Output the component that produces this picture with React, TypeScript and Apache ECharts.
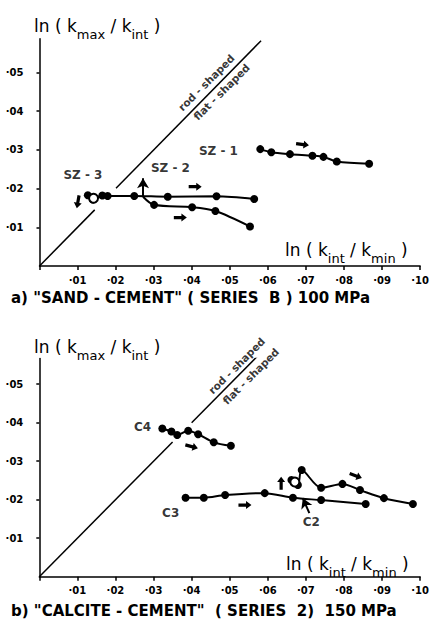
import React, { useEffect, useRef } from "react";
import * as echarts from "echarts";

// ---------- data ----------
const X_TICKS = [0.01, 0.02, 0.03, 0.04, 0.05, 0.06, 0.07, 0.08, 0.09, 0.1];
const Y_TICKS = [0.01, 0.02, 0.03, 0.04, 0.05];

// Panel a: sand-cement
const SZ1_X = [0.058, 0.0609, 0.0658, 0.0717, 0.0746, 0.0781, 0.0866];
const SZ1_Y = [0.0302, 0.0294, 0.0289, 0.0285, 0.0282, 0.027, 0.0264];
const SZ3_X = [0.0127, 0.014, 0.0165, 0.0179, 0.0249, 0.0337, 0.0465, 0.0564];
const SZ3_Y = [0.0183, 0.0172, 0.0182, 0.0181, 0.0181, 0.0179, 0.018, 0.0173];
const SZ2_X = [0.0272, 0.0301, 0.0401, 0.0462, 0.0553];
const SZ2_Y = [0.0179, 0.0158, 0.0152, 0.0142, 0.0102];
const DIAG_A = [[0, 0.0145], [0.0201, 0.0582]];

// Panel b: calcite-cement
const C4_X = [0.0323, 0.0347, 0.0362, 0.0391, 0.0417, 0.0458, 0.0503];
const C4_Y = [0.0385, 0.0377, 0.0368, 0.0379, 0.037, 0.0349, 0.034];
const C3_X = [0.0384, 0.0432, 0.0488, 0.0592, 0.0666, 0.074, 0.0857];
const C3_Y = [0.0205, 0.0205, 0.0212, 0.0217, 0.0205, 0.0199, 0.0189];
const C2_X = [0.0662, 0.0679, 0.0689, 0.074, 0.0796, 0.0842, 0.0905, 0.0981];
const C2_Y = [0.0251, 0.0238, 0.0277, 0.0231, 0.0241, 0.0225, 0.0204, 0.0189];
const DIAG_B = [[0, 0.035], [0.04, 0.0625]];

// direction arrows
const ARROW_A_X = [0.0691, 0.0409, 0.037, 0.0101];
const ARROW_A_Y = [0.0314, 0.0205, 0.0125, 0.0166];
const ARROW_A_ROT = [-8, 0, 0, -100];
const ARROW_B_X = [0.04, 0.054, 0.0831, 0.0635];
const ARROW_B_Y = [0.0338, 0.0186, 0.0262, 0.0243];
const ARROW_B_ROT = [-15, 0, -20, 90];

// loops
const LOOP_A = [[0.0142, 0.0175]];
const LOOP_B = [[0.0671, 0.0246]];

// series labels
const LABELS_A = [
  { name: "SZ - 1", x: 0.047, y: 0.0298 },
  { name: "SZ - 2", x: 0.0344, y: 0.0252 },
  { name: "SZ - 3", x: 0.0114, y: 0.0235 },
];
const LABELS_B = [
  { name: "C4", x: 0.0271, y: 0.039 },
  { name: "C3", x: 0.0345, y: 0.0166 },
  { name: "C2", x: 0.0714, y: 0.0143 },
];

const FONT = "'DejaVu Sans', sans-serif";
const ARROW = "path://M0,3L7,3L7,0L12,5L7,10L7,7L0,7Z";

const zip = (xs: number[], ys: number[]) => xs.map((x, i) => [x, ys[i]]);

function xAxis(gridIndex: number) {
  return {
    type: "value",
    gridIndex,
    min: 0,
    max: 0.1,
    interval: 0.01,
    splitLine: { show: false },
    axisLine: { lineStyle: { color: "#000", width: 1.5 } },
    axisTick: { length: 4, lineStyle: { color: "#000", width: 1.5 } },
    axisLabel: {
      color: "#000",
      fontFamily: FONT,
      fontSize: 10,
      fontWeight: "bold",
      margin: 9,
      formatter: (v: number) =>
        v < 0.005 ? "" : "·" + String(Math.round(v * 100)).padStart(2, "0"),
    },
  };
}

function yAxis(gridIndex: number, max: number) {
  return {
    type: "value",
    gridIndex,
    min: 0,
    max,
    interval: 0.01,
    splitLine: { show: false },
    axisLine: { lineStyle: { color: "#000", width: 1.5 } },
    axisTick: {
      length: 3,
      customValues: Y_TICKS,
      lineStyle: { color: "#000", width: 1.5 },
    },
    axisLabel: {
      color: "#000",
      fontFamily: FONT,
      fontSize: 10,
      fontWeight: "bold",
      margin: 16,
      customValues: Y_TICKS,
      formatter: (v: number) =>
        v < 0.005 || v > 0.055
          ? ""
          : "·" + String(Math.round(v * 100)).padStart(2, "0"),
    },
  };
}

function curve(xs: number[], ys: number[], axis: number, noFirstSymbol = false) {
  return {
    type: "line",
    xAxisIndex: axis,
    yAxisIndex: axis,
    smooth: 0.3,
    symbol: "circle",
    symbolSize: 8,
    itemStyle: { color: "#000", opacity: 1 },
    lineStyle: { color: "#000", width: 2 },
    data: zip(xs, ys).map((p, i) =>
      noFirstSymbol && i === 0 ? { value: p, symbol: "none" } : { value: p }
    ),
    z: 3,
  };
}

function diag(seg: number[], axis: number) {
  return {
    type: "line",
    xAxisIndex: axis,
    yAxisIndex: axis,
    symbol: "none",
    lineStyle: { color: "#000", width: 1.5 },
    data: [
      [seg[0], seg[0]],
      [seg[1], seg[1]],
    ],
  };
}

function arrows(xs: number[], ys: number[], rots: number[], axis: number) {
  return {
    type: "scatter",
    xAxisIndex: axis,
    yAxisIndex: axis,
    symbol: ARROW,
    symbolSize: [13, 8],
    itemStyle: { color: "#000", opacity: 1 },
    data: xs.map((x, i) => ({ value: [x, ys[i]], symbolRotate: rots[i] })),
    z: 4,
  };
}

function loops(pts: number[][], axis: number) {
  return {
    type: "scatter",
    xAxisIndex: axis,
    yAxisIndex: axis,
    symbol: "emptyCircle",
    symbolSize: 9,
    itemStyle: { color: "#000", borderColor: "#000", borderWidth: 2.5, opacity: 1 },
    data: pts,
    z: 5,
  };
}

function labels(items: { name: string; x: number; y: number }[], axis: number) {
  return {
    type: "scatter",
    xAxisIndex: axis,
    yAxisIndex: axis,
    symbolSize: 0,
    data: items.map((d) => ({ name: d.name, value: [d.x, d.y] })),
    label: {
      show: true,
      position: "inside",
      formatter: "{b}",
      color: "#000",
      fontFamily: FONT,
      fontWeight: "bold",
      fontSize: 12,
    },
    z: 6,
  };
}

function zoneText(text: string, x: number, y: number, axis: number) {
  return {
    type: "scatter",
    xAxisIndex: axis,
    yAxisIndex: axis,
    symbolSize: 0,
    data: [{ name: text, value: [x, y] }],
    label: {
      show: true,
      position: "inside",
      formatter: "{b}",
      rotate: 45,
      color: "#000",
      fontFamily: FONT,
      fontWeight: "bold",
      fontSize: 10.5,
    },
    z: 6,
  };
}

function pointer(from: number[], to: number[], axis: number) {
  return {
    type: "line",
    xAxisIndex: axis,
    yAxisIndex: axis,
    symbol: "none",
    data: [],
    markLine: {
      silent: true,
      symbol: ["none", "arrow"],
      symbolSize: [9, 10],
      label: { show: false },
      lineStyle: { color: "#000", width: 2, type: "solid" },
      data: [[{ coord: from }, { coord: to }]],
    },
  };
}

const RICH = {
  n: { fontFamily: FONT, fontSize: 17, color: "#000", lineHeight: 24, verticalAlign: "middle" },
  s: { fontFamily: FONT, fontSize: 13, color: "#000", lineHeight: 12, verticalAlign: "bottom", padding: [0, 0, -3, 0] },
};

function axisTitle(x: number, y: number, a: string, b: string) {
  return {
    type: "text",
    x,
    y,
    style: {
      text: `{n|ln ( k}{s|${a}}{n| / k}{s|${b}}{n| )}`,
      rich: RICH,
      align: "left",
      verticalAlign: "middle",
    },
  };
}

function caption(x: number, y: number, text: string) {
  return {
    type: "text",
    x,
    y,
    style: {
      text,
      fill: "#000",
      font: `bold 15px ${FONT}`,
      align: "left",
      verticalAlign: "middle",
    },
  };
}

export default function App() {
  const ref = useRef<HTMLDivElement>(null);
  useEffect(() => {
    if (!ref.current) return;
    const chart = echarts.init(ref.current, null, { renderer: "svg" });
    chart.setOption({
      animation: false,
      backgroundColor: "#fff",
      grid: [
        { left: 39.5, top: 38.8, width: 384, height: 227.2 },
        { left: 39.3, top: 358.4, width: 384, height: 218.3 },
      ],
      xAxis: [xAxis(0), xAxis(1)],
      yAxis: [yAxis(0, 0.0587), yAxis(1, 0.0567)],
      series: [
        diag(DIAG_A[0], 0),
        diag(DIAG_A[1], 0),
        curve(SZ1_X, SZ1_Y, 0),
        curve(SZ3_X, SZ3_Y, 0),
        curve(SZ2_X, SZ2_Y, 0, true),
        loops(LOOP_A, 0),
        arrows(ARROW_A_X, ARROW_A_Y, ARROW_A_ROT, 0),
        pointer([0.0272, 0.0179], [0.0272, 0.0227], 0),
        labels(LABELS_A, 0),
        zoneText("rod - shaped", 0.0438, 0.0474, 0),
        zoneText("flat - shaped", 0.0478, 0.0450, 0),

        diag(DIAG_B[0], 1),
        diag(DIAG_B[1], 1),
        curve(C4_X, C4_Y, 1),
        curve(C3_X, C3_Y, 1),
        curve(C2_X, C2_Y, 1),
        loops(LOOP_B, 1),
        arrows(ARROW_B_X, ARROW_B_Y, ARROW_B_ROT, 1),
        pointer([0.0709, 0.0165], [0.0692, 0.0204], 1),
        labels(LABELS_B, 1),
        zoneText("rod - shaped", 0.0518, 0.0548, 1),
        zoneText("flat - shaped", 0.0555, 0.0521, 1),
      ],
      graphic: [
        axisTitle(34, 26, "max", "int"),
        axisTitle(285, 250, "int", "min"),
        axisTitle(34, 347, "max", "int"),
        axisTitle(286, 564, "int", "min"),
        caption(11, 298, 'a) "SAND - CEMENT" ( SERIES  B ) 100 MPa'),
        caption(11, 611, 'b) "CALCITE - CEMENT"  ( SERIES  2)  150 MPa'),
      ],
    });
    return () => chart.dispose();
  }, []);
  return (
    <div
      ref={ref}
      style={{ position: "fixed", left: 0, top: 0, width: 432, height: 624, background: "#fff" }}
    />
  );
}
